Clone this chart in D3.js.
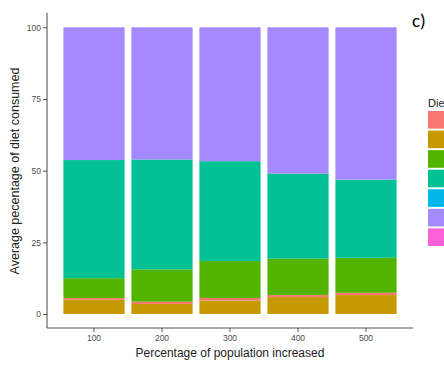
<!DOCTYPE html>
<html>
<head>
<meta charset="utf-8">
<script src="https://cdn.jsdelivr.net/npm/d3@7"></script>
<style>
  html, body { margin: 0; padding: 0; background: #fff; }
  svg { display: block; }
  text { font-family: "Liberation Sans", Arial, sans-serif; }
</style>
</head>
<body>
<svg id="chart" width="444" height="365"></svg>
<script>
// ---- data ----
const categories = ["100", "200", "300", "400", "500"];
const dietGroups = ["red", "gold", "green", "teal", "blue", "purple", "pink"];
// stacking order bottom -> top
const stackOrder = ["gold", "red", "green", "teal", "blue", "purple", "pink"];
const goldValues   = [5.0, 3.5, 4.7, 5.9, 6.6];
const redValues    = [0.6, 0.8, 0.9, 0.7, 0.8];
const greenValues  = [6.9, 11.3, 12.9, 12.7, 12.2];
const tealValues   = [41.2, 38.3, 34.8, 29.7, 27.3];
const blueValues   = [0, 0, 0, 0, 0];
const purpleValues = [46.3, 46.1, 46.7, 51.0, 53.1];
const pinkValues   = [0, 0, 0, 0, 0];
const yTicks = [0, 25, 50, 75, 100];
const legendTitle = "Diet";
const panelLabel = "c)";
const xTitle = "Percentage of population increased";
const yTitle = "Average pecentage of diet consumed";

const colors = {
  red: "#F8766D", gold: "#C49A00", green: "#53B400", teal: "#00C094",
  blue: "#00B6EB", purple: "#A58AFF", pink: "#FB61D7"
};
const seriesValues = {
  gold: goldValues, red: redValues, green: greenValues, teal: tealValues,
  blue: blueValues, purple: purpleValues, pink: pinkValues
};

const rows = categories.map((c, i) => {
  const r = { cat: c };
  stackOrder.forEach(k => r[k] = seriesValues[k][i]);
  return r;
});

const svg = d3.select("#chart");

const x = d3.scaleBand().domain(categories).range([60, 400])
  .paddingInner(0.1).paddingOuter(0.05);
const y = d3.scaleLinear().domain([0, 100]).range([314, 27.3]);

const panelLeft = 47, panelRight = 413, panelTop = 13, panelBottom = 328;

const stack = d3.stack().keys(stackOrder);
const series = stack(rows);

svg.append("g").selectAll("g")
  .data(series)
  .join("g")
  .attr("fill", d => colors[d.key])
  .selectAll("rect")
  .data(d => d)
  .join("rect")
  .attr("x", d => x(d.data.cat))
  .attr("width", x.bandwidth())
  .attr("y", d => y(d[1]))
  .attr("height", d => Math.max(0, y(d[0]) - y(d[1])));

// axes
const axisColor = "#555";
const yAxis = svg.append("g")
  .attr("transform", `translate(${panelLeft},0)`)
  .call(d3.axisLeft(y).tickValues(yTicks).tickSize(4).tickPadding(2).tickFormat(d3.format("d")));
yAxis.select(".domain").remove();
svg.append("line").attr("x1", panelLeft).attr("x2", panelLeft)
  .attr("y1", panelTop).attr("y2", panelBottom)
  .attr("stroke", axisColor).attr("stroke-width", 1.1);

const xAxis = svg.append("g")
  .attr("transform", `translate(0,${panelBottom})`)
  .call(d3.axisBottom(x).tickSize(4).tickPadding(3));
xAxis.select(".domain").remove();
svg.append("line").attr("x1", panelLeft).attr("x2", panelRight)
  .attr("y1", panelBottom).attr("y2", panelBottom)
  .attr("stroke", axisColor).attr("stroke-width", 1.1);

svg.selectAll(".tick line").attr("stroke", axisColor);
svg.selectAll(".tick text")
  .attr("fill", "#4d4d4d")
  .style("font-size", "8.5px")
  .style("font-family", "'Liberation Sans', Arial, sans-serif");

// titles
svg.append("text")
  .attr("x", 230).attr("y", 357)
  .attr("text-anchor", "middle")
  .attr("fill", "#222")
  .style("font-size", "12px")
  .text(xTitle);

svg.append("text")
  .attr("transform", "translate(19,171) rotate(-90)")
  .attr("text-anchor", "middle")
  .attr("fill", "#222")
  .style("font-size", "12.5px")
  .text(yTitle);

// panel label
svg.append("text")
  .attr("x", 412).attr("y", 27)
  .attr("fill", "#000")
  .style("font-size", "19px")
  .style("font-family", "Carlito, 'Open Sans', 'Liberation Sans', sans-serif")
  .text(panelLabel);

// legend
const legend = svg.append("g");
legend.append("text")
  .attr("x", 428).attr("y", 107)
  .attr("fill", "#222")
  .style("font-size", "11px")
  .text(legendTitle);

const keyY = d3.scaleBand().domain(dietGroups).range([111, 246]).paddingInner(0.1);
legend.selectAll("rect")
  .data(dietGroups)
  .join("rect")
  .attr("x", 428)
  .attr("y", d => keyY(d))
  .attr("width", 17.3)
  .attr("height", keyY.bandwidth())
  .attr("fill", d => colors[d]);
</script>
</body>
</html>
